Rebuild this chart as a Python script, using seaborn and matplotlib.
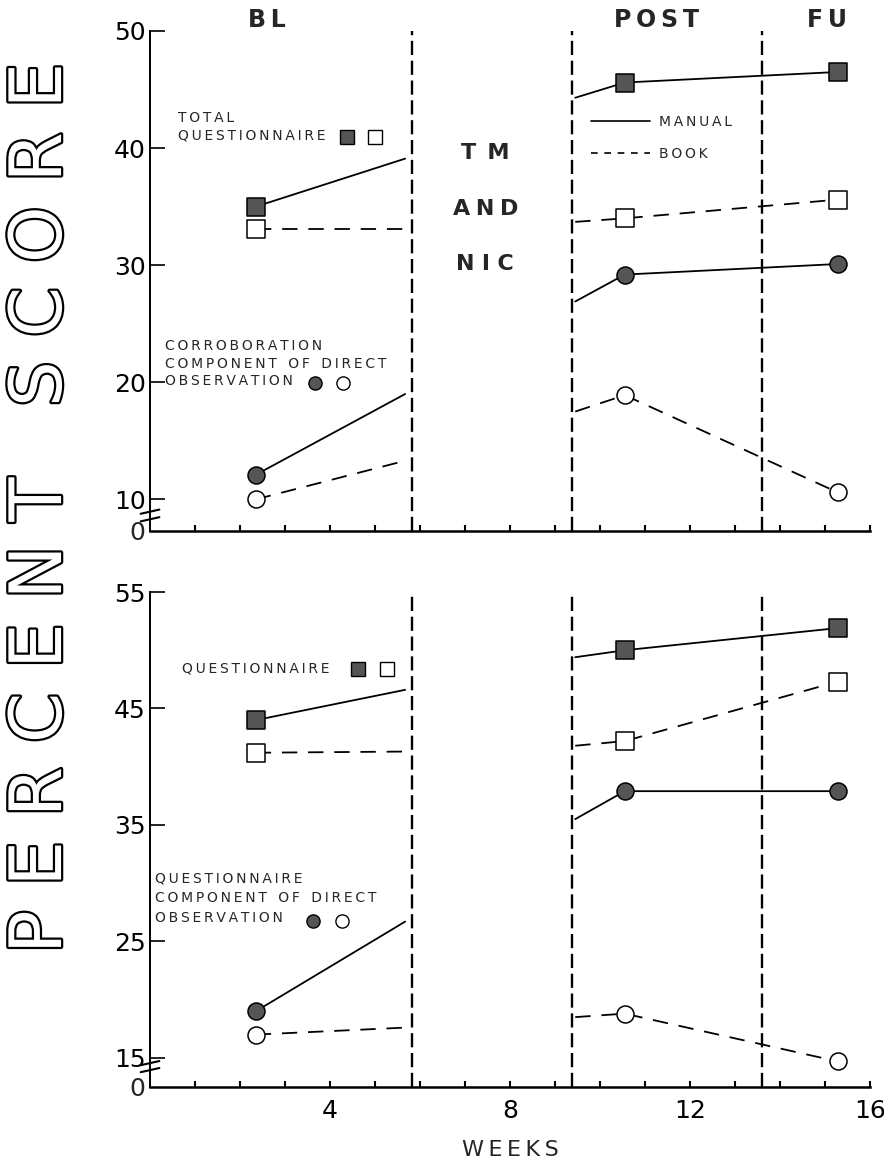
import matplotlib
matplotlib.use("Agg")
import matplotlib.pyplot as plt
import matplotlib.patheffects as pe
import matplotlib.transforms as mtransforms
from matplotlib.lines import Line2D
import pandas as pd
import seaborn as sns

# Week positions of the plotted points
bl_weeks = [2.35, 5.67]              # baseline assessment, end of baseline trend
post_weeks = [9.45, 10.55, 15.28]    # start of post trend, post-test, follow-up
bl_marked = [True, False]
post_marked = [False, True, True]
phase_bounds = [5.83, 9.38, 13.6]    # BL | TM and NIC | POST | FU

# Upper panel: total questionnaire (squares), corroboration component (circles)
total_q_manual_bl = [35.0, 39.1]
total_q_manual_post = [44.3, 45.6, 46.5]
total_q_book_bl = [33.1, 33.1]
total_q_book_post = [33.7, 34.0, 35.6]
corrob_manual_bl = [12.1, 19.0]
corrob_manual_post = [26.9, 29.2, 30.1]
corrob_book_bl = [10.0, 13.3]
corrob_book_post = [17.5, 18.9, 10.6]

# Lower panel: questionnaire (squares), questionnaire component (circles)
quest_manual_bl = [44.0, 46.6]
quest_manual_post = [49.4, 50.0, 51.9]
quest_book_bl = [41.2, 41.3]
quest_book_post = [41.8, 42.2, 47.3]
qcomp_manual_bl = [19.0, 26.7]
qcomp_manual_post = [35.5, 37.9, 37.9]
qcomp_book_bl = [17.0, 17.6]
qcomp_book_post = [18.5, 18.8, 14.7]

upper_ticks = [10, 20, 30, 40, 50]
lower_ticks = [15, 25, 35, 45, 55]
week_ticks = list(range(1, 17))
week_tick_labels = ["", "", "", "4", "", "", "", "8", "", "", "", "12", "", "", "", "16"]

FILL = "#555555"
SOLID = "-"
BOOK_DASH = (0, (8.5, 6.0))


def series_frame(panel, measure, group, shape, bl, post):
    rows = []
    for seg, weeks, vals, marks in (("BL", bl_weeks, bl, bl_marked),
                                    ("POST", post_weeks, post, post_marked)):
        for w, v, m in zip(weeks, vals, marks):
            rows.append(dict(panel=panel, measure=measure, group=group,
                             shape=shape, segment=seg, week=w, score=v,
                             marked=m))
    return pd.DataFrame(rows)


df = pd.concat([
    series_frame("upper", "total", "manual", "s", total_q_manual_bl, total_q_manual_post),
    series_frame("upper", "total", "book", "s", total_q_book_bl, total_q_book_post),
    series_frame("upper", "corrob", "manual", "o", corrob_manual_bl, corrob_manual_post),
    series_frame("upper", "corrob", "book", "o", corrob_book_bl, corrob_book_post),
    series_frame("lower", "quest", "manual", "s", quest_manual_bl, quest_manual_post),
    series_frame("lower", "quest", "book", "s", quest_book_bl, quest_book_post),
    series_frame("lower", "qcomp", "manual", "o", qcomp_manual_bl, qcomp_manual_post),
    series_frame("lower", "qcomp", "book", "o", qcomp_book_bl, qcomp_book_post),
], ignore_index=True)


def spread(text, gap="\u2009", word_gap=" \u2002"):
    """Letter-spaced caption text."""
    return word_gap.join(gap.join(word) for word in text.split(" "))


sns.set_theme(style="ticks")
plt.rcParams["font.family"] = ["DejaVu Sans"]
plt.rcParams["axes.edgecolor"] = "black"

W, H = 884, 1163
fig = plt.figure(figsize=(W / 100, H / 100), dpi=100)
ax_up = fig.add_axes([150 / W, 1 - 531 / H, 720 / W, 500 / H])
ax_lo = fig.add_axes([150 / W, 1 - 1087 / H, 720 / W, 495 / H])

panels = [(ax_up, "upper", (7.3, 50), upper_ticks, (8.95, 8.3)),
          (ax_lo, "lower", (12.5, 55), lower_ticks, (14.55, 13.95))]

for ax, name, ylim, yticks, breaks in panels:
    pdata = df[df.panel == name]
    for b in phase_bounds:
        ax.axvline(b, ymin=0, ymax=1, color="black", lw=1.7,
                   linestyle=(0, (6.0, 2.4)), zorder=1)
    for (measure, group, seg), d in pdata.groupby(["measure", "group", "segment"]):
        sns.lineplot(data=d, x="week", y="score", ax=ax, color="black",
                     lw=1.3, linestyle=SOLID if group == "manual" else BOOK_DASH,
                     estimator=None, sort=False, legend=False, zorder=2)
    marked = pdata[pdata.marked]
    for (shape, group), d in marked.groupby(["shape", "group"]):
        sns.scatterplot(data=d, x="week", y="score", ax=ax, marker=shape,
                        s=150, color=FILL if group == "manual" else "white",
                        edgecolor="black", linewidth=1.1, zorder=4,
                        legend=False)

    ax.set_xlim(0, 16)
    ax.set_ylim(*ylim)
    ax.set_yticks(yticks)
    ax.set_xticks(week_ticks)
    ax.set_xlabel("")
    ax.set_ylabel("")
    for side in ("top", "right"):
        ax.spines[side].set_visible(False)
    ax.spines["left"].set_linewidth(1.4)
    ax.spines["bottom"].set_linewidth(1.8)
    ax.tick_params(axis="y", direction="in", length=11, width=1.2,
                   labelsize=18, pad=3, colors="black")
    ax.tick_params(axis="x", direction="in", length=4, width=1.5,
                   labelsize=18, pad=9, colors="black")
    ax.set_facecolor("white")

    # broken-axis marks and the zero at the foot of the axis
    blend = mtransforms.blended_transform_factory(ax.transAxes, ax.transData)
    for yb in breaks:
        ax.plot([-0.013, 0.013], [yb - 0.18, yb + 0.18], transform=blend,
                color="black", lw=1.5, clip_on=False, zorder=5)
    ax.text(-0.007, -0.004, "0", transform=ax.transAxes, ha="right",
            va="center", fontsize=18)

ax_up.set_xticklabels([])
ax_lo.set_xticklabels(week_tick_labels)
ax_lo.set_xlabel(spread("WEEKS"), fontsize=16, labelpad=12)

# phase headings
for x, txt in ((2.6, "BL"), (11.25, "POST"), (15.05, "FU")):
    ax_up.text(x, 50.95, spread(txt), ha="center", va="center",
               fontsize=17, fontweight="bold", clip_on=False)
for y, txt in ((39.6, "T\u2002M"), (34.8, "A\u2005N\u2005D"), (30.1, "N\u2004I\u2004C")):
    ax_up.text(7.45, y, txt, ha="center", va="center", fontsize=16,
               fontweight="bold")

SMALL = 10


def key(ax, x, y, shape, filled):
    ax.plot([x], [y], marker=shape, ms=9.5, mfc=FILL if filled else "white",
            mec="black", mew=1.0, ls="none", clip_on=False, zorder=5)


ax_up.text(0.62, 41.8, spread("TOTAL") + "\n" + spread("QUESTIONNAIRE"),
           ha="left", va="center", fontsize=SMALL, linespacing=1.3)
key(ax_up, 4.38, 40.95, "s", True)
key(ax_up, 5.0, 40.95, "s", False)
ax_up.text(0.33, 21.6, spread("CORROBORATION") + "\n" + spread("COMPONENT OF DIRECT")
           + "\n" + spread("OBSERVATION"), ha="left", va="center",
           fontsize=SMALL, linespacing=1.35)
key(ax_up, 3.67, 19.95, "o", True)
key(ax_up, 4.29, 19.95, "o", False)

ax_lo.text(0.71, 48.4, spread("QUESTIONNAIRE"), ha="left", va="center",
           fontsize=SMALL)
key(ax_lo, 4.62, 48.4, "s", True)
key(ax_lo, 5.27, 48.4, "s", False)
ax_lo.text(0.11, 28.7, spread("QUESTIONNAIRE") + "\n" + spread("COMPONENT OF DIRECT")
           + "\n" + spread("OBSERVATION"), ha="left", va="center",
           fontsize=SMALL, linespacing=1.55)
key(ax_lo, 3.62, 26.75, "o", True)
key(ax_lo, 4.27, 26.75, "o", False)

# line-style legend
handles = [Line2D([], [], color="black", lw=1.2),
           Line2D([], [], color="black", lw=1.2, linestyle=(0, (4.0, 4.0)))]
ax_up.legend(handles, [spread("MANUAL"), spread("BOOK")], loc="upper left",
             bbox_to_anchor=(0.613, 0.833), frameon=False, fontsize=SMALL,
             handlelength=4.2, handletextpad=0.7, labelspacing=1.3,
             borderpad=0, borderaxespad=0)

# outlined axis title
fig.text(0.047, 1 - 508 / H,
         spread("PERCENT", "\u2004", "") + " \u2004\u2004" + spread("SCORE", "\u2004", ""),
         rotation=90, ha="center", va="center", fontsize=52, color="white",
         path_effects=[pe.withStroke(linewidth=3.2, foreground="black")])

fig.savefig("out.png", dpi=100, facecolor="white")
